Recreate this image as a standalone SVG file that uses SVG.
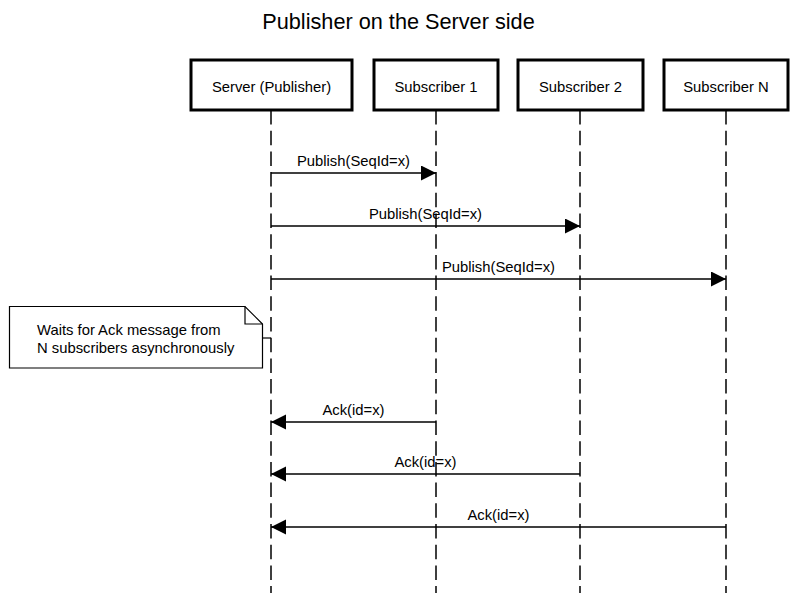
<svg xmlns="http://www.w3.org/2000/svg" width="798" height="593" viewBox="0 0 798 593">
<style>
text{font-family:"Liberation Sans",Arial,Helvetica,sans-serif;fill:#000}
.t{font-size:21.7px;text-anchor:middle}
.l{font-size:14.8px;text-anchor:middle}
.n{font-size:14.8px}
.box{fill:#fff;stroke:#000;stroke-width:3}
.life{stroke:#000;stroke-width:1.5;stroke-dasharray:14.5 6.2;fill:none}
.msg{stroke:#000;stroke-width:1.5;fill:none;marker-end:url(#ah)}
</style>
<defs>
<marker id="ah" markerUnits="userSpaceOnUse" markerWidth="16" markerHeight="16" refX="15" refY="7.5" orient="auto" viewBox="0 0 16 16">
<path d="M0,0 L15,7.5 L0,15 Z" fill="#000"/>
</marker>
</defs>
<rect width="798" height="593" fill="#fff"/>
<text class="t" x="398.5" y="29">Publisher on the Server side</text>
<g id="lifelines">
<line class="life" x1="271" y1="110" x2="271" y2="593"/>
<line class="life" x1="436" y1="110" x2="436" y2="593"/>
<line class="life" x1="580" y1="110" x2="580" y2="593"/>
<line class="life" x1="726" y1="110" x2="726" y2="593"/>
</g>
<g id="server">
<rect class="box" x="191" y="60" width="161" height="50"/>
<text class="l" x="271.5" y="92">Server (Publisher)</text>
</g>
<g id="sub1">
<rect class="box" x="374" y="60" width="124" height="50"/>
<text class="l" x="436" y="92">Subscriber 1</text>
</g>
<g id="sub2">
<rect class="box" x="518" y="60" width="125" height="50"/>
<text class="l" x="580.5" y="92">Subscriber 2</text>
</g>
<g id="subN">
<rect class="box" x="664" y="60" width="124" height="50"/>
<text class="l" x="726" y="92">Subscriber N</text>
</g>
<g id="note">
<path d="M9.5,306.5 H245 L262.5,324 V368 H9.5 Z" fill="#fff" stroke="#000" stroke-width="1.2"/>
<path d="M245,306.5 V324 H262.5" fill="none" stroke="#000" stroke-width="1.2"/>
<text class="n" x="37" y="335">Waits for Ack message from</text>
<text class="n" x="37" y="353">N subscribers asynchronously</text>
</g>
<g id="connectors">
<line x1="262.5" y1="338" x2="271" y2="338" stroke="#000" stroke-width="1.2"/>
<line class="msg" x1="271" y1="173" x2="436" y2="173"/>
<line class="msg" x1="271" y1="226" x2="580" y2="226"/>
<line class="msg" x1="271" y1="279" x2="726" y2="279"/>
<line class="msg" x1="436" y1="422" x2="271" y2="422"/>
<line class="msg" x1="580" y1="474" x2="271" y2="474"/>
<line class="msg" x1="726" y1="527" x2="271" y2="527"/>
<text class="l" x="353.5" y="166">Publish(SeqId=x)</text>
<text class="l" x="425.5" y="219">Publish(SeqId=x)</text>
<text class="l" x="498.5" y="272">Publish(SeqId=x)</text>
<text class="l" x="353.5" y="415">Ack(id=x)</text>
<text class="l" x="425.5" y="467">Ack(id=x)</text>
<text class="l" x="498.5" y="520">Ack(id=x)</text>
</g>
</svg>
